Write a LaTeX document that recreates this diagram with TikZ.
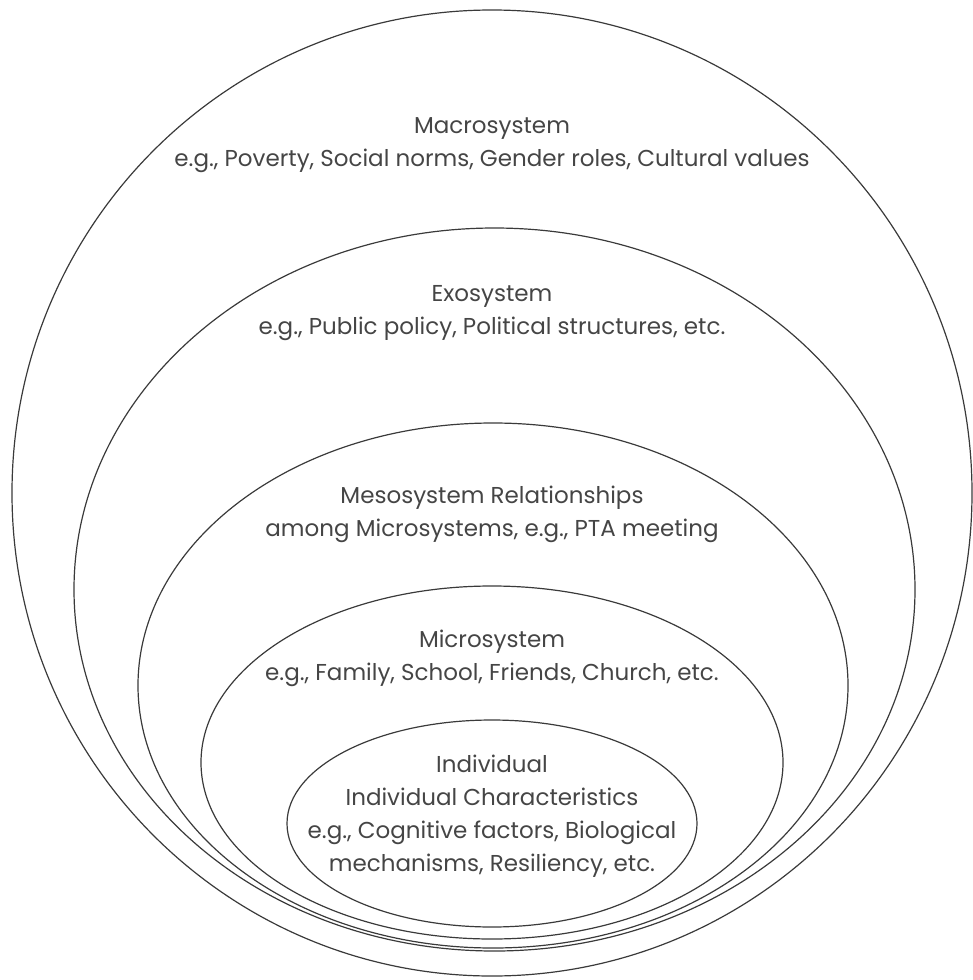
\documentclass[tikz,border=0pt]{standalone}
\usepackage{fontspec}
\setsansfont{Poppins}
\usepackage{tikz}
\usetikzlibrary{shapes.geometric}
\definecolor{ringline}{HTML}{3A3A3A}
\definecolor{ringtext}{HTML}{454545}

\begin{document}
\begin{tikzpicture}[
    x=0.5pt, y=-0.5pt,
    ring/.style={
        ellipse,
        draw=ringline,
        line width=0.6pt,
        inner sep=0pt,
        outer sep=0pt
    },
    systext/.style={
        align=center,
        font=\sffamily\fontsize{11.5}{16.5}\selectfont,
        text=ringtext
    }
]
    \useasboundingbox (0,0) rectangle (973,980);

    % Rings, outermost first
    \node[ring, minimum width=480pt, minimum height=483pt] (macro) at (492,493) {};
    \node[ring, minimum width=420.5pt, minimum height=361.5pt] (exo) at (494.5,589.5) {};
    \node[ring, minimum width=355pt, minimum height=262.5pt] (meso) at (493,685.5) {};
    \node[ring, minimum width=291pt, minimum height=176.5pt] (micro) at (492,762.5) {};
    \node[ring, minimum width=205pt, minimum height=103.5pt] (indiv) at (492,823.5) {};

    % Labels
    \node[systext] (macrotext) at (492,145) {Macrosystem\\e.g., Poverty, Social norms, Gender roles, Cultural values};
    \node[systext] (exotext) at (492,313.5) {Exosystem\\e.g., Public policy, Political structures, etc.};
    \node[systext] (mesotext) at (492,514.5) {Mesosystem Relationships\\among Microsystems, e.g., PTA meeting};
    \node[systext] (microtext) at (492,658.5) {Microsystem\\e.g., Family, School, Friends, Church, etc.};
    \node[systext] (indivtext) at (492,816) {Individual\\Individual Characteristics\\e.g., Cognitive factors, Biological\\mechanisms, Resiliency, etc.};
\end{tikzpicture}
\end{document}
